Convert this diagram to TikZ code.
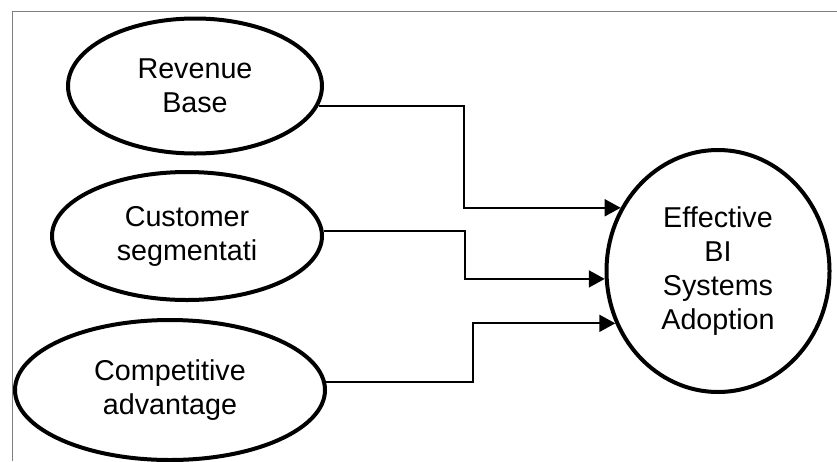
\documentclass[tikz,border=0pt]{standalone}
\usepackage{fontspec}
\setmainfont{Liberation Sans}
\usetikzlibrary{shapes.geometric,arrows.meta}
\begin{document}
\begin{tikzpicture}[x=1pt,y=-1pt,>={Triangle[length=16pt,width=17pt]}, line join=miter,
	font=\fontsize{28.7}{34}\selectfont,
	factor/.style={ellipse, draw, line width=4pt, inner sep=0pt, align=center},
	link/.style={->, line width=2pt}]
				\useasboundingbox (0,0) rectangle (837,461);
				\draw [gray, line width=1pt] (837,11)--(12,11)--(12,461);
				\node[factor, minimum width=254, minimum height=135] (rev) at (195,86) {Revenue\\Base};
				\node[factor, minimum width=270, minimum height=128] (seg) at (187,236) {Customer\\segmentati};
				\node[factor, minimum width=310, minimum height=140] (comp) at (170,390) {Competitive\\advantage};
				\node[factor, minimum width=223, minimum height=242] (bi) at (718,271) {Effective\\BI\\Systems\\Adoption};
				\draw [link] (rev.-9.4)--++(145,0) |- (bi.147);
				\draw [link] (seg.2.5)--++(141,0) |- (bi.184);
				\draw [link] (comp.3)--++(147,0) |- (bi.207);
			\end{tikzpicture}
\end{document}
